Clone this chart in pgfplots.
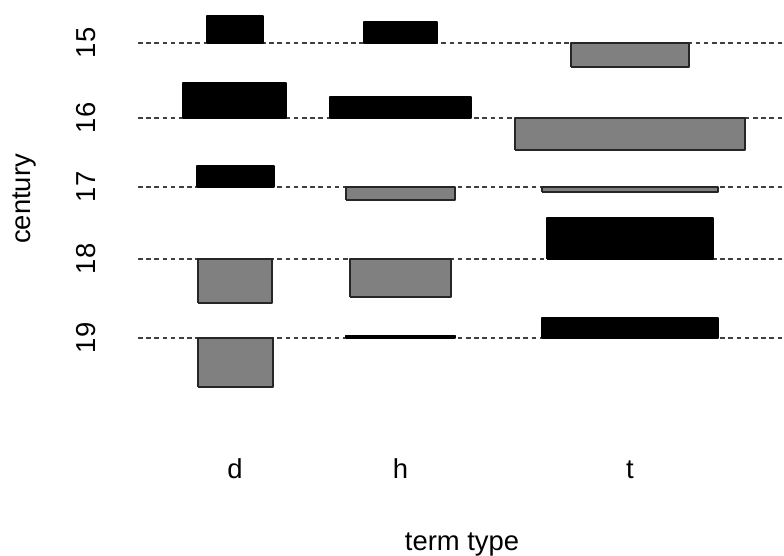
\documentclass[border=0pt]{standalone}
\usepackage{pgfplots}
\pgfplotsset{compat=1.18}
\usepackage{fontspec}
\setmainfont{Liberation Sans}
\newcommand{\lblfont}{\fontsize{13.7}{16}\selectfont}
% positive residual (black) and negative residual (grey) boxes: x1, x2, y1, y2
\newcommand{\posbox}[4]{\addplot[fill=black, draw=black, line width=0.7pt, line join=round] coordinates {(#1,#3) (#2,#3) (#2,#4) (#1,#4) (#1,#3)};}
\newcommand{\negbox}[4]{\addplot[fill=gray, draw=black!85, line width=0.7pt, line join=round] coordinates {(#1,#3) (#2,#3) (#2,#4) (#1,#4) (#1,#3)};}
\newcommand{\baseline}[1]{\addplot[black!75, line width=1pt, dash pattern=on 2.3pt off 1.8pt] coordinates {(138,#1) (784,#1)};}
\begin{document}
\begin{tikzpicture}
\begin{axis}[
  name=ax,
  scale only axis,
  width=392pt, height=278pt,
  xmin=0, xmax=784, ymin=0, ymax=556,
  axis line style={draw=none},
  tick style={draw=none},
  clip=false,
  xtick={235,400.5,630},
  xticklabels={d,h,t},
  xticklabel style={anchor=base, font=\lblfont},
  xticklabel shift=-38.5pt,
  ytick={218,297,369,438,513},
  yticklabels={19,18,17,16,15},
  yticklabel style={rotate=90, anchor=base, font=\lblfont},
  yticklabel shift=-48pt,
]
\baseline{513}
\baseline{438}
\baseline{369}
\baseline{297}
\baseline{218}
% century 15
\posbox{207}{263}{513}{540}
\posbox{364}{437}{513}{534}
\negbox{571}{689}{489}{513}
% century 16
\posbox{183}{286}{438}{473}
\posbox{330}{471}{438}{459}
\negbox{515}{745}{406}{438}
% century 17
\posbox{197}{274}{369}{390}
\negbox{346}{455}{356}{369}
\negbox{542}{718}{364}{369}
% century 18
\negbox{198}{272}{253}{297}
\negbox{350}{451}{259}{297}
\posbox{547}{713}{297}{338}
% century 19
\negbox{198}{273}{169}{218}
\posbox{346}{455}{218}{220.5}
\posbox{542}{718}{218}{238}
\node[rotate=90, anchor=base, font=\lblfont] at (axis cs:31,357) {century};
\node[anchor=base, font=\lblfont] at (axis cs:462,5) {term type};
\end{axis}
\pgfresetboundingbox
\path[use as bounding box] (ax.south west) rectangle (ax.north east);
\end{tikzpicture}
\end{document}
